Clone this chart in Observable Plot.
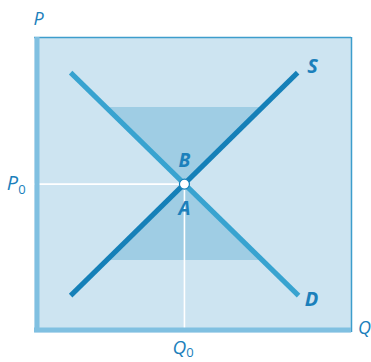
<!DOCTYPE html>
<html>
<head>
<meta charset="utf-8">
<script src="https://cdn.jsdelivr.net/npm/d3@7"></script>
<script src="https://cdn.jsdelivr.net/npm/@observablehq/plot@0.6"></script>
<style>
  html, body { margin: 0; padding: 0; background: #ffffff; }
  #chart svg { display: block; }
</style>
</head>
<body>
<div id="chart"></div>
<script>
// Demand (D) and supply (S) lines: quantity Q and price P
const demandQ = [1.14, 8.33];
const demandP = [8.81, 1.25];
const supplyQ = [1.14, 8.30];
const supplyP = [1.25, 8.81];

// Equilibrium point
const eqQ = 4.73;
const eqP = 5.03;

// Shaded triangle B (above equilibrium): price levels and Q bounds
const shadeBP = [5.03, 7.63];
const shadeBQ1 = [4.73, 2.26];
const shadeBQ2 = [4.73, 7.21];

// Shaded triangle A (below equilibrium)
const shadeAP = [5.03, 2.44];
const shadeAQ1 = [4.73, 2.27];
const shadeAQ2 = [4.73, 7.20];

// Text labels
const axisLabels = ["P", "Q"];
const lineLabels = ["D", "S"];
const pointLabels = ["B", "A"];
const sub = "0";

const demand = demandQ.map((q, i) => ({q, p: demandP[i]}));
const supply = supplyQ.map((q, i) => ({q, p: supplyP[i]}));
const shadeB = shadeBP.map((p, i) => ({p, q1: shadeBQ1[i], q2: shadeBQ2[i]}));
const shadeA = shadeAP.map((p, i) => ({p, q1: shadeAQ1[i], q2: shadeAQ2[i]}));
const eq = [{q: eqQ, p: eqP}];

const textColor = "#1b80bb";
const font = "'Open Sans', 'Noto Sans', sans-serif";

const chart = Plot.plot({
  width: 371,
  height: 362,
  marginLeft: 34,
  marginRight: 20,
  marginTop: 37,
  marginBottom: 30,
  x: {domain: [0, 10], axis: null},
  y: {domain: [0, 10], axis: null},
  style: {fontFamily: font, background: "transparent", overflow: "visible"},
  marks: [
    Plot.frame({fill: "#cde4f1", stroke: null}),
    Plot.areaX(shadeB, {y: "p", x1: "q1", x2: "q2", fill: "#9fcde4"}),
    Plot.areaX(shadeA, {y: "p", x1: "q1", x2: "q2", fill: "#9fcde4"}),
    Plot.ruleY(eq, {y: "p", x1: 0, x2: "q", stroke: "#ffffff", strokeWidth: 1.6}),
    Plot.ruleX(eq, {x: "q", y1: 0, y2: "p", stroke: "#ffffff", strokeWidth: 1.6}),
    Plot.ruleY([10], {stroke: "#3d9dcc", strokeWidth: 1.5}),
    Plot.ruleX([10], {stroke: "#3d9dcc", strokeWidth: 1.5}),
    Plot.ruleX([0], {stroke: "#80c0e1", strokeWidth: 5, dx: 2.5}),
    Plot.ruleY([0], {stroke: "#80c0e1", strokeWidth: 5, dy: -2.5}),
    Plot.line(demand, {x: "q", y: "p", stroke: "#38a3d0", strokeWidth: 5, strokeLinecap: "butt"}),
    Plot.line(supply, {x: "q", y: "p", stroke: "#1580b8", strokeWidth: 5, strokeLinecap: "butt"}),
    Plot.dot(eq, {x: "q", y: "p", r: 5, fill: "#ffffff", stroke: "#1580b8", strokeWidth: 1.2}),
    // point labels B and A
    Plot.text(eq, {x: "q", y: "p", text: () => pointLabels[0], dy: -23, fontSize: 19, fontWeight: "bold", fontStyle: "italic", fill: textColor}),
    Plot.text(eq, {x: "q", y: "p", text: () => pointLabels[1], dy: 24.5, fontSize: 19, fontWeight: "bold", fontStyle: "italic", fill: textColor}),
    // line labels
    Plot.text([demand[1]], {x: "q", y: "p", text: () => lineLabels[0], dx: 13, dy: 4, fontSize: 20, fontWeight: "bold", fontStyle: "italic", fill: textColor}),
    Plot.text([supply[1]], {x: "q", y: "p", text: () => lineLabels[1], dx: 15, dy: -6, fontSize: 20, fontWeight: "bold", fontStyle: "italic", fill: textColor}),
    // axis labels
    Plot.text([{q: 0, p: 10}], {x: "q", y: "p", text: () => axisLabels[0], dx: 4, dy: -18, fontSize: 18, fontStyle: "italic", fill: textColor}),
    Plot.text([{q: 10, p: 0}], {x: "q", y: "p", text: () => axisLabels[1], dx: 13, dy: -4, fontSize: 18, fontStyle: "italic", fill: textColor}),
    // P0
    Plot.text(eq, {x: () => 0, y: "p", text: () => axisLabels[0], dx: -22, dy: -1, fontSize: 20, fontStyle: "italic", fill: textColor}),
    Plot.text(eq, {x: () => 0, y: "p", text: () => sub, dx: -12.5, dy: 5.5, fontSize: 13, fill: textColor}),
    // Q0
    Plot.text(eq, {x: "q", y: () => 0, text: () => axisLabels[1], dx: -5, dy: 15.5, fontSize: 19, fontStyle: "italic", fill: textColor}),
    Plot.text(eq, {x: "q", y: () => 0, text: () => sub, dx: 5.5, dy: 20, fontSize: 13, fill: textColor})
  ]
});
document.getElementById("chart").appendChild(chart);
</script>
</body>
</html>
